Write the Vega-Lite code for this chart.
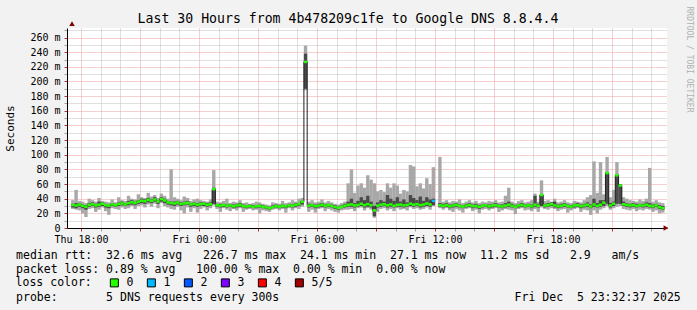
{
"$schema": "https://vega.github.io/schema/vega-lite/v6.json",
"width": 600, "height": 200,
"autosize": {"type": "none"},
"padding": {"left": 67, "top": 28, "right": 30, "bottom": 82},
"background": "#f2f2f2",
"config": {
  "font": "DejaVu Sans Mono",
  "view": {"fill": "white", "stroke": null},
  "axis": {"labelFont": "DejaVu Sans Mono", "titleFont": "DejaVu Sans Mono", "labelColor": "black", "titleColor": "black", "titleFontWeight": "normal", "domainColor": "black", "domainWidth": 1}
},
"title": {"text": "Last 30 Hours from 4b478209c1fe to Google DNS 8.8.4.4", "font": "DejaVu Sans Mono", "fontSize": 13.2, "fontWeight": "normal", "color": "black", "anchor": "middle", "dx": -19, "offset": 5, "dy": 25},
"data": {"values": [
{"t":"2025-12-04T17:30","med":31.5,"dlo":28,"dhi":33,"lo":26,"hi":38,"loss":"0"},
{"t":"2025-12-04T17:40","med":30.8,"dlo":27,"dhi":34,"lo":25,"hi":52,"loss":"0"},
{"t":"2025-12-04T17:50","med":32.0,"dlo":29,"dhi":34,"lo":24,"hi":37,"loss":"0"},
{"t":"2025-12-04T18:00","med":30.2,"dlo":27,"dhi":32,"lo":20,"hi":36,"loss":"0"},
{"t":"2025-12-04T18:10","med":29.0,"dlo":25,"dhi":31,"lo":15,"hi":34,"loss":"0"},
{"t":"2025-12-04T18:20","med":31.6,"dlo":29,"dhi":34,"lo":26,"hi":40,"loss":"0"},
{"t":"2025-12-04T18:30","med":32.4,"dlo":30,"dhi":35,"lo":27,"hi":38,"loss":"0"},
{"t":"2025-12-04T18:40","med":30.9,"dlo":28,"dhi":33,"lo":22,"hi":36,"loss":"0"},
{"t":"2025-12-04T18:50","med":31.8,"dlo":29,"dhi":36,"lo":25,"hi":41,"loss":"0"},
{"t":"2025-12-04T19:00","med":33.0,"dlo":30,"dhi":35,"lo":28,"hi":37,"loss":"0"},
{"t":"2025-12-04T19:10","med":31.2,"dlo":28,"dhi":33,"lo":23,"hi":36,"loss":"0"},
{"t":"2025-12-04T19:20","med":30.5,"dlo":27,"dhi":32,"lo":18,"hi":35,"loss":"0"},
{"t":"2025-12-04T19:30","med":32.3,"dlo":30,"dhi":34,"lo":27,"hi":39,"loss":"0"},
{"t":"2025-12-04T19:40","med":31.0,"dlo":29,"dhi":33,"lo":26,"hi":35,"loss":"0"},
{"t":"2025-12-04T19:50","med":32.8,"dlo":30,"dhi":35,"lo":25,"hi":42,"loss":"0"},
{"t":"2025-12-04T20:00","med":33.5,"dlo":31,"dhi":36,"lo":28,"hi":38,"loss":"0"},
{"t":"2025-12-04T20:10","med":32.1,"dlo":30,"dhi":34,"lo":26,"hi":37,"loss":"0"},
{"t":"2025-12-04T20:20","med":34.0,"dlo":31,"dhi":37,"lo":27,"hi":44,"loss":"0"},
{"t":"2025-12-04T20:30","med":35.2,"dlo":32,"dhi":38,"lo":30,"hi":40,"loss":"0"},
{"t":"2025-12-04T20:40","med":34.1,"dlo":31,"dhi":36,"lo":26,"hi":39,"loss":"0"},
{"t":"2025-12-04T20:50","med":36.0,"dlo":33,"dhi":38,"lo":30,"hi":46,"loss":"0"},
{"t":"2025-12-04T21:00","med":37.2,"dlo":34,"dhi":40,"lo":31,"hi":42,"loss":"0"},
{"t":"2025-12-04T21:10","med":36.5,"dlo":33,"dhi":39,"lo":28,"hi":41,"loss":"0"},
{"t":"2025-12-04T21:20","med":38.4,"dlo":35,"dhi":41,"lo":32,"hi":48,"loss":"0"},
{"t":"2025-12-04T21:30","med":37.0,"dlo":34,"dhi":39,"lo":29,"hi":43,"loss":"0"},
{"t":"2025-12-04T21:40","med":38.9,"dlo":36,"dhi":42,"lo":33,"hi":45,"loss":"0"},
{"t":"2025-12-04T21:50","med":36.2,"dlo":33,"dhi":38,"lo":27,"hi":41,"loss":"0"},
{"t":"2025-12-04T22:00","med":39.5,"dlo":36,"dhi":42,"lo":34,"hi":47,"loss":"0"},
{"t":"2025-12-04T22:10","med":37.6,"dlo":34,"dhi":40,"lo":30,"hi":44,"loss":"0"},
{"t":"2025-12-04T22:20","med":35.0,"dlo":32,"dhi":37,"lo":28,"hi":40,"loss":"0"},
{"t":"2025-12-04T22:30","med":34.2,"dlo":31,"dhi":36,"lo":26,"hi":80,"loss":"0"},
{"t":"2025-12-04T22:40","med":33.5,"dlo":30,"dhi":36,"lo":25,"hi":42,"loss":"0"},
{"t":"2025-12-04T22:50","med":34.8,"dlo":32,"dhi":37,"lo":29,"hi":40,"loss":"0"},
{"t":"2025-12-04T23:00","med":32.9,"dlo":30,"dhi":35,"lo":24,"hi":38,"loss":"0"},
{"t":"2025-12-04T23:10","med":33.6,"dlo":31,"dhi":36,"lo":20,"hi":43,"loss":"0"},
{"t":"2025-12-04T23:20","med":34.4,"dlo":32,"dhi":37,"lo":28,"hi":41,"loss":"0"},
{"t":"2025-12-04T23:30","med":32.2,"dlo":29,"dhi":34,"lo":22,"hi":37,"loss":"0"},
{"t":"2025-12-04T23:40","med":33.0,"dlo":30,"dhi":35,"lo":27,"hi":39,"loss":"0"},
{"t":"2025-12-04T23:50","med":31.8,"dlo":29,"dhi":34,"lo":21,"hi":40,"loss":"0"},
{"t":"2025-12-05T00:00","med":32.5,"dlo":30,"dhi":35,"lo":26,"hi":38,"loss":"0"},
{"t":"2025-12-05T00:10","med":33.2,"dlo":30,"dhi":35,"lo":28,"hi":37,"loss":"0"},
{"t":"2025-12-05T00:20","med":31.6,"dlo":29,"dhi":34,"lo":24,"hi":36,"loss":"0"},
{"t":"2025-12-05T00:30","med":32.4,"dlo":30,"dhi":35,"lo":27,"hi":39,"loss":"0"},
{"t":"2025-12-05T00:40","med":53.0,"dlo":33,"dhi":55,"lo":31,"hi":79,"loss":"0"},
{"t":"2025-12-05T00:50","med":31.2,"dlo":29,"dhi":33,"lo":26,"hi":36,"loss":"0"},
{"t":"2025-12-05T01:00","med":30.6,"dlo":28,"dhi":33,"lo":22,"hi":35,"loss":"0"},
{"t":"2025-12-05T01:10","med":31.4,"dlo":29,"dhi":33,"lo":27,"hi":37,"loss":"0"},
{"t":"2025-12-05T01:20","med":30.2,"dlo":28,"dhi":32,"lo":25,"hi":40,"loss":"0"},
{"t":"2025-12-05T01:30","med":31.0,"dlo":29,"dhi":33,"lo":23,"hi":34,"loss":"0"},
{"t":"2025-12-05T01:40","med":29.6,"dlo":27,"dhi":32,"lo":26,"hi":36,"loss":"0"},
{"t":"2025-12-05T01:50","med":30.8,"dlo":28,"dhi":33,"lo":24,"hi":35,"loss":"0"},
{"t":"2025-12-05T02:00","med":31.5,"dlo":29,"dhi":34,"lo":27,"hi":38,"loss":"0"},
{"t":"2025-12-05T02:10","med":30.0,"dlo":28,"dhi":32,"lo":22,"hi":34,"loss":"0"},
{"t":"2025-12-05T02:20","med":29.4,"dlo":27,"dhi":31,"lo":25,"hi":35,"loss":"0"},
{"t":"2025-12-05T02:30","med":30.2,"dlo":28,"dhi":32,"lo":26,"hi":33,"loss":"0"},
{"t":"2025-12-05T02:40","med":28.8,"dlo":27,"dhi":31,"lo":24,"hi":34,"loss":"0"},
{"t":"2025-12-05T02:50","med":29.6,"dlo":27,"dhi":31,"lo":25,"hi":36,"loss":"0"},
{"t":"2025-12-05T03:00","med":30.4,"dlo":28,"dhi":32,"lo":20,"hi":35,"loss":"0"},
{"t":"2025-12-05T03:10","med":29.0,"dlo":27,"dhi":31,"lo":24,"hi":33,"loss":"0"},
{"t":"2025-12-05T03:20","med":28.2,"dlo":26,"dhi":30,"lo":23,"hi":32,"loss":"0"},
{"t":"2025-12-05T03:30","med":27.0,"dlo":25,"dhi":29,"lo":22,"hi":31,"loss":"0"},
{"t":"2025-12-05T03:40","med":28.6,"dlo":27,"dhi":31,"lo":25,"hi":35,"loss":"0"},
{"t":"2025-12-05T03:50","med":29.8,"dlo":28,"dhi":32,"lo":26,"hi":34,"loss":"0"},
{"t":"2025-12-05T04:00","med":29.2,"dlo":27,"dhi":31,"lo":24,"hi":33,"loss":"0"},
{"t":"2025-12-05T04:10","med":30.4,"dlo":28,"dhi":32,"lo":26,"hi":37,"loss":"0"},
{"t":"2025-12-05T04:20","med":29.6,"dlo":27,"dhi":31,"lo":21,"hi":34,"loss":"0"},
{"t":"2025-12-05T04:30","med":31.0,"dlo":29,"dhi":33,"lo":27,"hi":35,"loss":"0"},
{"t":"2025-12-05T04:40","med":30.2,"dlo":28,"dhi":32,"lo":24,"hi":38,"loss":"0"},
{"t":"2025-12-05T04:50","med":31.8,"dlo":29,"dhi":34,"lo":27,"hi":36,"loss":"0"},
{"t":"2025-12-05T05:00","med":32.6,"dlo":30,"dhi":34,"lo":26,"hi":40,"loss":"0"},
{"t":"2025-12-05T05:10","med":35.8,"dlo":32,"dhi":37,"lo":29,"hi":41,"loss":"0"},
{"t":"2025-12-05T05:20","med":226.7,"dlo":190,"dhi":238,"lo":188,"hi":249,"loss":"0"},
{"t":"2025-12-05T05:30","med":30.5,"dlo":28,"dhi":33,"lo":22,"hi":36,"loss":"0"},
{"t":"2025-12-05T05:40","med":31.2,"dlo":29,"dhi":33,"lo":25,"hi":38,"loss":"0"},
{"t":"2025-12-05T05:50","med":29.8,"dlo":27,"dhi":32,"lo":21,"hi":35,"loss":"0"},
{"t":"2025-12-05T06:00","med":30.6,"dlo":28,"dhi":33,"lo":26,"hi":36,"loss":"0"},
{"t":"2025-12-05T06:10","med":31.8,"dlo":29,"dhi":34,"lo":27,"hi":39,"loss":"0"},
{"t":"2025-12-05T06:20","med":30.2,"dlo":28,"dhi":32,"lo":23,"hi":35,"loss":"0"},
{"t":"2025-12-05T06:30","med":31.4,"dlo":29,"dhi":33,"lo":26,"hi":37,"loss":"0"},
{"t":"2025-12-05T06:40","med":30.0,"dlo":28,"dhi":32,"lo":24,"hi":35,"loss":"0"},
{"t":"2025-12-05T06:50","med":28.6,"dlo":26,"dhi":31,"lo":22,"hi":33,"loss":"0"},
{"t":"2025-12-05T07:00","med":27.4,"dlo":25,"dhi":29,"lo":21,"hi":32,"loss":"0"},
{"t":"2025-12-05T07:10","med":29.0,"dlo":27,"dhi":31,"lo":24,"hi":34,"loss":"0"},
{"t":"2025-12-05T07:20","med":30.4,"dlo":28,"dhi":33,"lo":25,"hi":36,"loss":"0"},
{"t":"2025-12-05T07:30","med":31.6,"dlo":29,"dhi":36,"lo":25,"hi":61,"loss":"0"},
{"t":"2025-12-05T07:40","med":32.2,"dlo":29,"dhi":40,"lo":26,"hi":80,"loss":"0"},
{"t":"2025-12-05T07:50","med":30.8,"dlo":28,"dhi":34,"lo":23,"hi":48,"loss":"0"},
{"t":"2025-12-05T08:00","med":31.4,"dlo":29,"dhi":37,"lo":27,"hi":58,"loss":"0"},
{"t":"2025-12-05T08:10","med":33.0,"dlo":30,"dhi":42,"lo":28,"hi":61,"loss":"0"},
{"t":"2025-12-05T08:20","med":31.2,"dlo":28,"dhi":38,"lo":24,"hi":55,"loss":"0"},
{"t":"2025-12-05T08:30","med":32.6,"dlo":29,"dhi":44,"lo":27,"hi":72,"loss":"0"},
{"t":"2025-12-05T08:40","med":31.0,"dlo":28,"dhi":36,"lo":25,"hi":66,"loss":"0"},
{"t":"2025-12-05T08:50","med":24.0,"dlo":16,"dhi":30,"lo":14,"hi":61,"loss":"0"},
{"t":"2025-12-05T09:00","med":30.6,"dlo":28,"dhi":35,"lo":22,"hi":50,"loss":"0"},
{"t":"2025-12-05T09:10","med":31.8,"dlo":29,"dhi":38,"lo":26,"hi":52,"loss":"0"},
{"t":"2025-12-05T09:20","med":32.4,"dlo":30,"dhi":36,"lo":27,"hi":49,"loss":"0"},
{"t":"2025-12-05T09:30","med":31.0,"dlo":28,"dhi":45,"lo":24,"hi":61,"loss":"0"},
{"t":"2025-12-05T09:40","med":32.2,"dlo":29,"dhi":40,"lo":26,"hi":55,"loss":"0"},
{"t":"2025-12-05T09:50","med":30.4,"dlo":28,"dhi":37,"lo":23,"hi":61,"loss":"0"},
{"t":"2025-12-05T10:00","med":31.6,"dlo":29,"dhi":42,"lo":27,"hi":58,"loss":"0"},
{"t":"2025-12-05T10:10","med":32.0,"dlo":29,"dhi":36,"lo":25,"hi":47,"loss":"0"},
{"t":"2025-12-05T10:20","med":30.8,"dlo":28,"dhi":39,"lo":26,"hi":52,"loss":"0"},
{"t":"2025-12-05T10:30","med":31.4,"dlo":29,"dhi":35,"lo":24,"hi":50,"loss":"0"},
{"t":"2025-12-05T10:40","med":33.2,"dlo":30,"dhi":45,"lo":28,"hi":86,"loss":"0"},
{"t":"2025-12-05T10:50","med":31.8,"dlo":29,"dhi":41,"lo":26,"hi":84,"loss":"0"},
{"t":"2025-12-05T11:00","med":32.6,"dlo":30,"dhi":38,"lo":27,"hi":57,"loss":"0"},
{"t":"2025-12-05T11:10","med":31.2,"dlo":28,"dhi":43,"lo":25,"hi":61,"loss":"0"},
{"t":"2025-12-05T11:20","med":32.0,"dlo":29,"dhi":37,"lo":26,"hi":54,"loss":"0"},
{"t":"2025-12-05T11:30","med":33.4,"dlo":30,"dhi":42,"lo":28,"hi":68,"loss":"0"},
{"t":"2025-12-05T11:40","med":32.2,"dlo":29,"dhi":39,"lo":25,"hi":60,"loss":"0"},
{"t":"2025-12-05T11:50","med":37.0,"dlo":31,"dhi":40,"lo":30,"hi":83,"loss":"1"},
{"t":"2025-12-05T12:00","med":null,"dlo":null,"dhi":null,"lo":null,"hi":null,"loss":"5/5"},
{"t":"2025-12-05T12:10","med":31.0,"dlo":29,"dhi":34,"lo":27,"hi":97,"loss":"0"},
{"t":"2025-12-05T12:20","med":30.4,"dlo":28,"dhi":33,"lo":25,"hi":36,"loss":"0"},
{"t":"2025-12-05T12:30","med":31.2,"dlo":29,"dhi":34,"lo":27,"hi":38,"loss":"0"},
{"t":"2025-12-05T12:40","med":29.6,"dlo":27,"dhi":32,"lo":24,"hi":35,"loss":"0"},
{"t":"2025-12-05T12:50","med":30.8,"dlo":28,"dhi":33,"lo":22,"hi":37,"loss":"0"},
{"t":"2025-12-05T13:00","med":31.6,"dlo":29,"dhi":34,"lo":26,"hi":36,"loss":"0"},
{"t":"2025-12-05T13:10","med":30.0,"dlo":28,"dhi":32,"lo":24,"hi":39,"loss":"0"},
{"t":"2025-12-05T13:20","med":29.2,"dlo":27,"dhi":31,"lo":21,"hi":34,"loss":"0"},
{"t":"2025-12-05T13:30","med":30.6,"dlo":28,"dhi":33,"lo":26,"hi":36,"loss":"0"},
{"t":"2025-12-05T13:40","med":31.4,"dlo":29,"dhi":34,"lo":27,"hi":38,"loss":"0"},
{"t":"2025-12-05T13:50","med":29.8,"dlo":27,"dhi":32,"lo":23,"hi":35,"loss":"0"},
{"t":"2025-12-05T14:00","med":30.2,"dlo":28,"dhi":33,"lo":25,"hi":37,"loss":"0"},
{"t":"2025-12-05T14:10","med":28.8,"dlo":26,"dhi":31,"lo":20,"hi":34,"loss":"0"},
{"t":"2025-12-05T14:20","med":30.4,"dlo":28,"dhi":32,"lo":25,"hi":36,"loss":"0"},
{"t":"2025-12-05T14:30","med":31.0,"dlo":29,"dhi":33,"lo":26,"hi":35,"loss":"0"},
{"t":"2025-12-05T14:40","med":29.6,"dlo":27,"dhi":32,"lo":24,"hi":37,"loss":"0"},
{"t":"2025-12-05T14:50","med":30.8,"dlo":28,"dhi":33,"lo":26,"hi":36,"loss":"0"},
{"t":"2025-12-05T15:00","med":31.2,"dlo":29,"dhi":34,"lo":27,"hi":38,"loss":"0"},
{"t":"2025-12-05T15:10","med":30.0,"dlo":28,"dhi":32,"lo":22,"hi":35,"loss":"0"},
{"t":"2025-12-05T15:20","med":29.4,"dlo":27,"dhi":32,"lo":24,"hi":36,"loss":"0"},
{"t":"2025-12-05T15:30","med":30.6,"dlo":28,"dhi":34,"lo":26,"hi":44,"loss":"0"},
{"t":"2025-12-05T15:40","med":31.8,"dlo":29,"dhi":36,"lo":25,"hi":55,"loss":"0"},
{"t":"2025-12-05T15:50","med":30.2,"dlo":28,"dhi":33,"lo":24,"hi":36,"loss":"0"},
{"t":"2025-12-05T16:00","med":29.0,"dlo":27,"dhi":31,"lo":19,"hi":34,"loss":"0"},
{"t":"2025-12-05T16:10","med":30.8,"dlo":28,"dhi":33,"lo":26,"hi":37,"loss":"0"},
{"t":"2025-12-05T16:20","med":31.4,"dlo":29,"dhi":34,"lo":27,"hi":38,"loss":"0"},
{"t":"2025-12-05T16:30","med":30.0,"dlo":28,"dhi":32,"lo":24,"hi":35,"loss":"0"},
{"t":"2025-12-05T16:40","med":31.0,"dlo":29,"dhi":33,"lo":25,"hi":36,"loss":"0"},
{"t":"2025-12-05T16:50","med":29.6,"dlo":27,"dhi":32,"lo":23,"hi":38,"loss":"0"},
{"t":"2025-12-05T17:00","med":31.8,"dlo":29,"dhi":44,"lo":26,"hi":47,"loss":"0"},
{"t":"2025-12-05T17:10","med":30.4,"dlo":28,"dhi":33,"lo":22,"hi":36,"loss":"0"},
{"t":"2025-12-05T17:20","med":45.0,"dlo":30,"dhi":46,"lo":28,"hi":65,"loss":"0"},
{"t":"2025-12-05T17:30","med":30.6,"dlo":28,"dhi":33,"lo":26,"hi":37,"loss":"0"},
{"t":"2025-12-05T17:40","med":31.2,"dlo":29,"dhi":34,"lo":25,"hi":38,"loss":"0"},
{"t":"2025-12-05T17:50","med":32.6,"dlo":30,"dhi":35,"lo":27,"hi":36,"loss":"0"},
{"t":"2025-12-05T18:00","med":30.8,"dlo":28,"dhi":36,"lo":26,"hi":40,"loss":"0"},
{"t":"2025-12-05T18:10","med":29.6,"dlo":27,"dhi":32,"lo":23,"hi":35,"loss":"0"},
{"t":"2025-12-05T18:20","med":30.4,"dlo":28,"dhi":33,"lo":25,"hi":36,"loss":"0"},
{"t":"2025-12-05T18:30","med":31.6,"dlo":29,"dhi":34,"lo":26,"hi":38,"loss":"0"},
{"t":"2025-12-05T18:40","med":30.0,"dlo":28,"dhi":32,"lo":21,"hi":35,"loss":"0"},
{"t":"2025-12-05T18:50","med":29.2,"dlo":27,"dhi":31,"lo":24,"hi":34,"loss":"0"},
{"t":"2025-12-05T19:00","med":30.8,"dlo":28,"dhi":33,"lo":26,"hi":37,"loss":"0"},
{"t":"2025-12-05T19:10","med":31.2,"dlo":29,"dhi":34,"lo":27,"hi":36,"loss":"0"},
{"t":"2025-12-05T19:20","med":29.8,"dlo":27,"dhi":32,"lo":22,"hi":35,"loss":"0"},
{"t":"2025-12-05T19:30","med":30.6,"dlo":28,"dhi":33,"lo":25,"hi":38,"loss":"0"},
{"t":"2025-12-05T19:40","med":31.8,"dlo":29,"dhi":35,"lo":24,"hi":42,"loss":"0"},
{"t":"2025-12-05T19:50","med":29.4,"dlo":27,"dhi":32,"lo":18,"hi":45,"loss":"0"},
{"t":"2025-12-05T20:00","med":32.0,"dlo":29,"dhi":40,"lo":24,"hi":91,"loss":"0"},
{"t":"2025-12-05T20:10","med":30.2,"dlo":28,"dhi":34,"lo":20,"hi":48,"loss":"0"},
{"t":"2025-12-05T20:20","med":31.6,"dlo":29,"dhi":38,"lo":25,"hi":90,"loss":"0"},
{"t":"2025-12-05T20:30","med":34.6,"dlo":30,"dhi":38,"lo":27,"hi":46,"loss":"0"},
{"t":"2025-12-05T20:40","med":75.0,"dlo":33,"dhi":76,"lo":30,"hi":97,"loss":"0"},
{"t":"2025-12-05T20:50","med":30.8,"dlo":28,"dhi":34,"lo":25,"hi":42,"loss":"0"},
{"t":"2025-12-05T21:00","med":33.2,"dlo":30,"dhi":36,"lo":27,"hi":52,"loss":"0"},
{"t":"2025-12-05T21:10","med":72.0,"dlo":33,"dhi":73,"lo":29,"hi":90,"loss":"0"},
{"t":"2025-12-05T21:20","med":58.0,"dlo":33,"dhi":60,"lo":30,"hi":60,"loss":"0"},
{"t":"2025-12-05T21:30","med":32.4,"dlo":30,"dhi":36,"lo":26,"hi":42,"loss":"0"},
{"t":"2025-12-05T21:40","med":31.6,"dlo":29,"dhi":34,"lo":25,"hi":40,"loss":"0"},
{"t":"2025-12-05T21:50","med":30.8,"dlo":28,"dhi":33,"lo":24,"hi":38,"loss":"0"},
{"t":"2025-12-05T22:00","med":31.4,"dlo":29,"dhi":34,"lo":26,"hi":37,"loss":"0"},
{"t":"2025-12-05T22:10","med":30.2,"dlo":28,"dhi":33,"lo":23,"hi":36,"loss":"0"},
{"t":"2025-12-05T22:20","med":31.0,"dlo":29,"dhi":33,"lo":25,"hi":39,"loss":"0"},
{"t":"2025-12-05T22:30","med":30.6,"dlo":28,"dhi":33,"lo":24,"hi":37,"loss":"0"},
{"t":"2025-12-05T22:40","med":31.8,"dlo":29,"dhi":35,"lo":26,"hi":40,"loss":"0"},
{"t":"2025-12-05T22:50","med":30.4,"dlo":28,"dhi":34,"lo":25,"hi":82,"loss":"0"},
{"t":"2025-12-05T23:00","med":29.6,"dlo":27,"dhi":32,"lo":22,"hi":36,"loss":"0"},
{"t":"2025-12-05T23:10","med":31.0,"dlo":29,"dhi":33,"lo":24,"hi":38,"loss":"0"},
{"t":"2025-12-05T23:20","med":28.4,"dlo":26,"dhi":31,"lo":20,"hi":35,"loss":"0"},
{"t":"2025-12-05T23:30","med":27.1,"dlo":25,"dhi":30,"lo":21,"hi":34,"loss":"0"}
]},
"layer": [
  {"mark": {"type": "bar", "color": "#a8a8a8", "width": 3.4, "xOffset": 1.67, "clip": true},
   "encoding": {
     "x": {"field": "t", "type": "temporal",
       "scale": {"domain": [{"year": 2025, "month": 12, "date": 4, "hours": 17, "minutes": 32, "seconds": 37}, {"year": 2025, "month": 12, "date": 5, "hours": 23, "minutes": 32, "seconds": 37}], "nice": false},
       "axis": {"orient": "bottom", "tickCount": 30, "labelExpr": "hours(datum.value) % 6 == 0 ? timeFormat(datum.value, '%a %H:%M') : ''", "labelOverlap": false, "labelFlush": false, "labelFontSize": 10, "labelPadding": 3, "tickSize": 3,
         "tickColor": {"condition": {"test": "hours(datum.value) % 3 == 0", "value": "#c03030"}, "value": "#a0a0a0"},
         "grid": true, "gridDash": [1, 1], "gridWidth": 1,
         "gridColor": {"condition": {"test": "hours(datum.value) % 3 == 0", "value": "#eca0a0"}, "value": "#c0c0c0"},
         "title": ["median\u00a0rtt:\u00a0\u00a032.6\u00a0ms\u00a0avg\u00a0\u00a0\u00a0226.7\u00a0ms\u00a0max\u00a0\u00a024.1\u00a0ms\u00a0min\u00a0\u00a027.1\u00a0ms\u00a0now\u00a0\u00a011.2\u00a0ms\u00a0sd\u00a0\u00a0\u00a02.9\u00a0\u00a0\u00a0am/s", "packet\u00a0loss:\u00a00.89\u00a0%\u00a0avg\u00a0\u00a0\u00a0100.00\u00a0%\u00a0max\u00a0\u00a00.00\u00a0%\u00a0min\u00a0\u00a00.00\u00a0%\u00a0now"],
         "titleFontSize": 11.5, "titleLineHeight": 14, "titleAlign": "left", "titleBaseline": "alphabetic", "titleX": -51.4, "titleY": 30}},
     "y": {"field": "lo", "type": "quantitative", "scale": {"domain": [0, 273], "nice": false},
       "axis": {"orient": "left", "values": [0,10,20,30,40,50,60,70,80,90,100,110,120,130,140,150,160,170,180,190,200,210,220,230,240,250,260,270],
         "labelExpr": "datum.value % 20 == 0 ? (datum.value == 0 ? '0' : datum.value + ' m') : ''", "labelOverlap": false, "labelFontSize": 10, "labelPadding": 4, "tickSize": 3,
         "tickColor": {"condition": {"test": "datum.value % 20 == 0", "value": "#c03030"}, "value": "#a0a0a0"},
         "grid": true, "gridDash": [1, 1], "gridWidth": 1,
         "gridColor": {"condition": {"test": "datum.value % 20 == 0", "value": "#eca0a0"}, "value": "#c0c0c0"},
         "title": "Seconds", "titleFontSize": 11, "titleX": -57, "titleY": 100, "titleAngle": -90, "titleAlign": "center", "titleBaseline": "middle"}},
     "y2": {"field": "hi"}
   }},
  {"mark": {"type": "bar", "color": "#4a4a4a", "width": 3.4, "xOffset": 1.67, "clip": true},
   "encoding": {
     "x": {"field": "t", "type": "temporal", "axis": null},
     "y": {"field": "dlo", "type": "quantitative", "axis": null},
     "y2": {"field": "dhi"}
   }},
  {"mark": {"type": "line", "color": "#202020", "strokeWidth": 1, "interpolate": "step", "xOffset": 1.67, "clip": true},
   "encoding": {
     "x": {"field": "t", "type": "temporal", "axis": null},
     "y": {"field": "med", "type": "quantitative", "axis": null}
   }},
  {"mark": {"type": "tick", "orient": "horizontal", "thickness": 2.5, "size": 3.4, "opacity": 1, "xOffset": 1.67, "clip": true},
   "encoding": {
     "x": {"field": "t", "type": "temporal", "axis": null},
     "y": {"field": "med", "type": "quantitative", "axis": null},
     "color": {"field": "loss", "type": "nominal",
       "scale": {"domain": ["0", "1", "2", "3", "4", "5/5"], "range": ["#26ff00", "#00b8ff", "#0059ff", "#7e00ff", "#ff0000", "#a10000"]},
       "legend": {"orient": "none", "legendX": -51.4, "legendY": 249, "direction": "horizontal", "title": "loss color:", "titleOrient": "left", "titleFont": "DejaVu Sans Mono", "titleFontSize": 11.5, "titleFontWeight": "normal", "titleColor": "black", "titlePadding": 16,
         "symbolType": "square", "symbolSize": 64, "symbolStrokeColor": "black", "symbolStrokeWidth": 1, "symbolOpacity": 1,
         "labelFont": "DejaVu Sans Mono", "labelFontSize": 11.5, "labelColor": "black", "labelOffset": 6.5, "columnPadding": 11}}
   }},
  {"data": {"values": [{"a": 1}]},
   "mark": {"type": "point", "shape": "triangle-up", "filled": true, "color": "#800000", "size": 30, "opacity": 1},
   "encoding": {
     "x": {"datum": {"year": 2025, "month": 12, "date": 4, "hours": 17, "minutes": 32, "seconds": 37}, "type": "temporal", "axis": null},
     "y": {"datum": 279, "type": "quantitative", "axis": null}
   }},
  {"data": {"values": [{"a": 1}]},
   "mark": {"type": "point", "shape": "triangle-right", "filled": true, "color": "#800000", "size": 30, "opacity": 1},
   "encoding": {
     "x": {"datum": {"year": 2025, "month": 12, "date": 5, "hours": 23, "minutes": 44, "seconds": 37}, "type": "temporal", "axis": null},
     "y": {"datum": 0, "type": "quantitative", "axis": null}
   }},
  {"mark": {"type": "point", "opacity": 0},
   "encoding": {
     "x": {"field": "t", "type": "temporal",
       "axis": {"orient": "bottom", "labels": false, "ticks": false, "domain": false, "grid": false,
         "title": "probe:\u00a0\u00a0\u00a0\u00a0\u00a0\u00a0\u00a05\u00a0DNS\u00a0requests\u00a0every\u00a0300s\u00a0\u00a0\u00a0\u00a0\u00a0\u00a0\u00a0\u00a0\u00a0\u00a0\u00a0\u00a0\u00a0\u00a0\u00a0\u00a0\u00a0\u00a0\u00a0\u00a0\u00a0\u00a0\u00a0\u00a0\u00a0\u00a0\u00a0\u00a0\u00a0\u00a0\u00a0\u00a0\u00a0\u00a0Fri\u00a0Dec\u00a0\u00a05\u00a023:32:37\u00a02025",
         "titleFontSize": 11.5, "titleAlign": "left", "titleBaseline": "alphabetic", "titleX": -51.4, "titleY": 72}},
     "y": {"field": "med", "type": "quantitative",
       "axis": {"orient": "right", "labels": false, "ticks": false, "domain": false, "grid": false,
         "title": "RRDTOOL / TOBI OETIKER", "titleFontSize": 8, "titleColor": "#b0b0b0", "titleAngle": 90, "titleX": 21, "titleY": 31, "titleAlign": "center", "titleBaseline": "middle"}}
   }}
],
"resolve": {"axis": {"x": "independent", "y": "independent"}}
}
